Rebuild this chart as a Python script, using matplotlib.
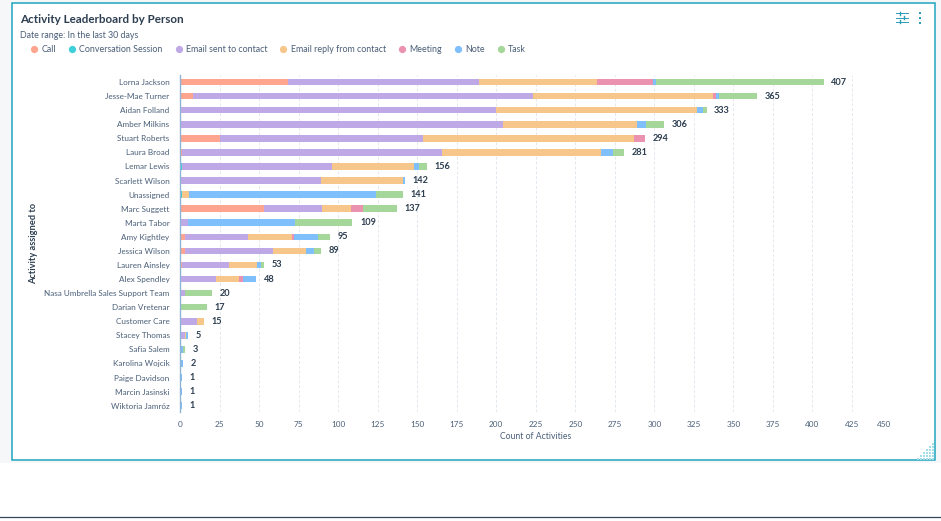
import matplotlib
matplotlib.use("Agg")
import matplotlib.pyplot as plt
from matplotlib.lines import Line2D
from matplotlib.patches import Rectangle

people = ["Lorna Jackson", "Jesse-Mae Turner", "Aidan Folland", "Amber Milkins", "Stuart Roberts",
          "Laura Broad", "Lemar Lewis", "Scarlett Wilson", "Unassigned", "Marc Suggett", "Marta Tabor",
          "Amy Kightley", "Jessica Wilson", "Lauren Ainsley", "Alex Spendley",
          "Nasa Umbrella Sales Support Team", "Darian Vretenar", "Customer Care", "Stacey Thomas",
          "Safia Salem", "Karolina Wojcik", "Paige Davidson", "Marcin Jasinski", "Wiktoria Jamróz"]

call = [68, 8, 0, 0, 25, 1, 0, 0, 0, 53, 0, 3, 3, 1, 0, 0, 0, 0, 0, 0, 0, 0, 0, 0]
conversation = [0, 0, 0, 0, 0, 0, 1, 0, 1, 0, 0, 0, 0, 0, 0, 0, 0, 0, 0, 0, 0, 0, 0, 0]
email_sent = [121, 215, 200, 204, 129, 165, 95, 89, 0, 37, 5, 40, 56, 30, 23, 3, 0, 11, 3, 0, 0, 0, 0, 0]
email_reply = [75, 114, 127, 85, 133, 100, 52, 52, 5, 18, 0, 28, 21, 18, 14, 0, 0, 4, 1, 0, 0, 0, 0, 0]
meeting = [35, 2, 0, 0, 7, 0, 0, 0, 0, 8, 0, 1, 0, 0, 3, 0, 0, 0, 0, 0, 0, 0, 0, 0]
note = [2, 2, 4, 6, 0, 8, 3, 1, 118, 0, 68, 15, 5, 2, 8, 0, 0, 0, 1, 2, 2, 1, 1, 1]
task = [106, 24, 2, 11, 0, 7, 5, 0, 17, 21, 36, 8, 4, 2, 0, 17, 17, 0, 0, 1, 0, 0, 0, 0]

series_names = ["Call", "Conversation Session", "Email sent to contact", "Email reply from contact",
                "Meeting", "Note", "Task"]
series_values = [call, conversation, email_sent, email_reply, meeting, note, task]
series_colors = ["#ffa58f", "#3fcfd8", "#bfa8e6", "#f6c68b", "#ec92b1", "#7fbffb", "#a5d69a"]
x_ticks = list(range(0, 475, 25))

W, H = 941, 521
TEXT = "#4a5f78"
DARK = "#2d3e50"
TEAL = "#1fa5bf"
ICON = "#2a9cb5"

plt.rcParams["font.family"] = ["Lato", "DejaVu Sans"]

fig = plt.figure(figsize=(W / 100, H / 100), dpi=100, facecolor="white")

# page background and card, drawn in pixel coordinates
bg = fig.add_axes([0, 0, 1, 1], zorder=0)
bg.set_xlim(0, W)
bg.set_ylim(H, 0)
bg.axis("off")
bg.add_patch(Rectangle((0, 0), W, 463, color="#f5f7f9", lw=0))
bg.add_patch(Rectangle((12, 3), 923, 457, facecolor="white", edgecolor=TEAL, lw=1.1))
bg.plot([0, W], [517, 517], color="#33475b", lw=0.9)

# filter icon and menu dots
for y, knob in [(13, 900), (17.5, 904), (21.7, 900)]:
    bg.plot([896, 908], [y, y], color=ICON, lw=0.7)
    bg.plot([knob, knob], [y - 1.5, y + 1.5], color=ICON, lw=1)
for y in (13.3, 18, 22.7):
    bg.plot([920.3], [y], "s", color=ICON, ms=1.7, mew=0)

# resize grip in the corner
for i in range(6):
    for j in range(i + 1):
        bg.plot([933.5 - j * 3], [458.5 - (5 - i) * 3], "s", color="#a5dde8", ms=1.5, mew=0)

bg.text(20, 19.5, "Activity Leaderboard by Person", fontsize=8.4, fontweight="bold", color=DARK, va="center")
bg.text(20, 36, "Date range: In the last 30 days", fontsize=6.4, color=TEXT, va="center")
bg.text(34, 243, "Activity assigned to", fontsize=6.7, fontweight="bold", color=DARK,
        rotation=90, ha="center", va="center")

left, right, top, bottom = 180, 891.5, 75, 412
ax = fig.add_axes([left / W, 1 - bottom / H, (right - left) / W, (bottom - top) / H], zorder=1)
ax.patch.set_alpha(0)

rows = list(range(len(people)))
starts = [0] * len(people)
for name, values, color in zip(series_names, series_values, series_colors):
    ax.barh(rows, values, left=starts, height=0.47, color=color, lw=0, zorder=2)
    starts = [s + v for s, v in zip(starts, values)]

for row, total in zip(rows, starts):
    ax.annotate(str(total), (total, row), xytext=(5.5, 0), textcoords="offset points",
                fontsize=6.6, fontweight="bold", color=DARK, va="center")

ax.set_xlim(0, 450)
ax.set_ylim(23.45, -0.5)
ax.set_xticks(x_ticks)
ax.set_yticks(rows)
ax.set_yticklabels(people)
ax.tick_params(axis="both", length=0, labelsize=5.9, labelcolor=TEXT)
ax.tick_params(axis="x", pad=6.5)
ax.tick_params(axis="y", pad=7.5)
ax.get_xticklabels()[-1].set_ha("right")
ax.grid(axis="x", color="#e3e8ef", lw=0.7, ls=(0, (3, 2)), zorder=1)
for side in ("top", "right", "bottom"):
    ax.spines[side].set_visible(False)
ax.spines["left"].set_color("#8fb3d6")
ax.spines["left"].set_linewidth(1)
ax.set_xlabel("Count of Activities", fontsize=6.2, color=TEXT, labelpad=3)

handles = [Line2D([], [], ls="", marker="o", ms=4.2, color=c) for c in series_colors]
fig.legend(handles, series_names, loc="upper left", bbox_to_anchor=(31.5 / W, 1 - 45.5 / H),
           ncol=7, frameon=False, fontsize=6.4, labelcolor=TEXT, handlelength=0.6,
           handletextpad=0.5, columnspacing=1.52, borderpad=0, borderaxespad=0)

fig.savefig("out.png", dpi=100)
